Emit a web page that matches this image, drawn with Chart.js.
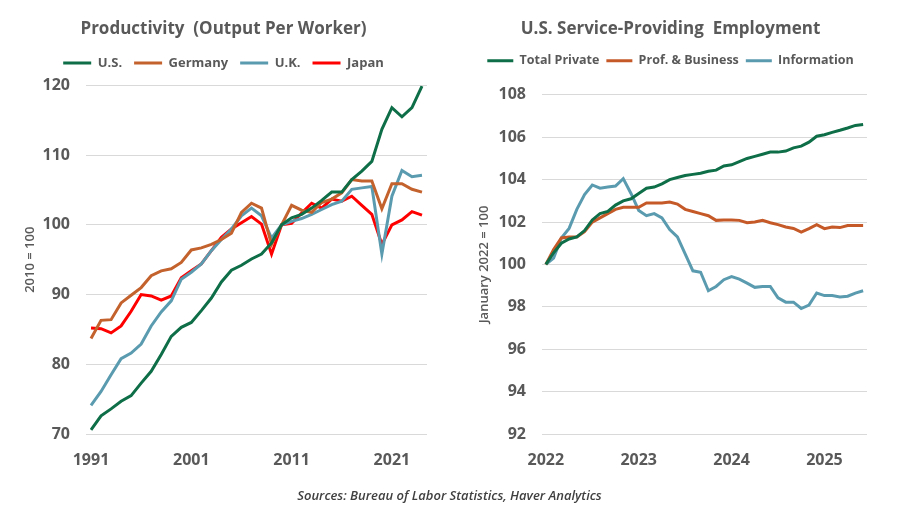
<!DOCTYPE html>
<html>
<head>
<meta charset="utf-8">
<title>Productivity and U.S. Service-Providing Employment</title>
<script src="https://cdn.jsdelivr.net/npm/chart.js@4.4.1/dist/chart.umd.min.js"></script>
<style>
    html, body { margin: 0; padding: 0; background: #fff; }
    #wrap { position: relative; width: 899px; height: 519px; overflow: hidden; }
    #prodChart { position: absolute; left: 0; top: 0; }
    #empChart { position: absolute; left: 450px; top: 0; }
    #source {
        position: absolute; left: 0; top: 486px; width: 899px;
        text-align: center; line-height: 18px;
        font: italic 600 13px 'Open Sans', sans-serif; color: #404040;
    }
</style>
</head>
<body>
<div id="wrap">
    <canvas id="prodChart" width="450" height="519"></canvas>
    <canvas id="empChart" width="449" height="519"></canvas>
    <div id="source">Sources: Bureau of Labor Statistics, Haver Analytics</div>
</div>
<script>
// Productivity (output per worker), 2010 = 100, annual
const prodYears = [
    '1991', '1992', '1993', '1994', '1995', '1996', '1997', '1998', '1999', '2000',
    '2001', '2002', '2003', '2004', '2005', '2006', '2007', '2008', '2009', '2010',
    '2011', '2012', '2013', '2014', '2015', '2016', '2017', '2018', '2019', '2020',
    '2021', '2022', '2023', '2024'
];
const prodYearTicks = ['1991', '2001', '2011', '2021'];
const prodUS = [70.6, 72.6, 73.6, 74.7, 75.5, 77.3, 79.0, 81.4, 84.0, 85.3, 86.0, 87.7, 89.5, 91.8, 93.5, 94.2, 95.1, 95.8,
    97.4, 100.0, 101.0, 101.5, 102.4, 103.5, 104.7, 104.7, 106.5, 107.7, 109.1, 113.7, 116.8, 115.5, 116.8, 119.9];
const prodGermany = [83.7, 86.3, 86.4, 88.8, 89.9, 91.0, 92.7, 93.4, 93.7, 94.6, 96.4, 96.7, 97.2, 97.9, 98.8, 101.8, 103.1, 102.4,
    97.2, 100.0, 102.8, 102.1, 101.8, 103.2, 103.7, 104.6, 106.5, 106.3, 106.3, 102.3, 105.9, 105.9, 105.1, 104.7];
const prodUK = [74.1, 76.1, 78.5, 80.8, 81.6, 82.9, 85.5, 87.5, 89.1, 92.2, 93.2, 94.4, 96.3, 97.9, 99.4, 101.3, 102.4, 101.3,
    98.1, 100.0, 100.5, 100.9, 101.5, 102.2, 102.9, 103.4, 105.1, 105.3, 105.5, 95.8, 104.1, 107.8, 106.9, 107.1];
const prodJapan = [85.2, 85.1, 84.5, 85.5, 87.6, 90.0, 89.8, 89.2, 89.8, 92.4, 93.4, 94.4, 96.3, 98.2, 99.4, 100.3, 101.2, 100.1,
    95.8, 100.0, 100.2, 101.7, 103.1, 102.4, 103.7, 103.4, 104.1, 102.8, 101.5, 97.2, 100.0, 100.7, 101.9, 101.4];

// Service-providing employment, January 2022 = 100, monthly
const empMonths = [
    '2022-01', '2022-02', '2022-03', '2022-04', '2022-05', '2022-06', '2022-07', '2022-08', '2022-09', '2022-10', '2022-11', '2022-12',
    '2023-01', '2023-02', '2023-03', '2023-04', '2023-05', '2023-06', '2023-07', '2023-08', '2023-09', '2023-10', '2023-11', '2023-12',
    '2024-01', '2024-02', '2024-03', '2024-04', '2024-05', '2024-06', '2024-07', '2024-08', '2024-09', '2024-10', '2024-11', '2024-12',
    '2025-01', '2025-02', '2025-03', '2025-04', '2025-05', '2025-06'
];
const empYearTicks = ['2022', '2023', '2024', '2025'];
const empTotalPrivate = [100.0, 100.55, 101.0, 101.2, 101.3, 101.6, 102.1, 102.4, 102.5, 102.8, 103.0, 103.1,
    103.35, 103.6, 103.65, 103.8, 104.0, 104.1, 104.2, 104.25, 104.3, 104.4, 104.45, 104.65,
    104.7, 104.85, 105.0, 105.1, 105.2, 105.3, 105.3, 105.35, 105.5, 105.58, 105.77, 106.05,
    106.12, 106.23, 106.33, 106.44, 106.56, 106.6];
const empProfBusiness = [100.0, 100.7, 101.25, 101.3, 101.3, 101.55, 102.0, 102.2, 102.4, 102.6, 102.7, 102.7,
    102.7, 102.9, 102.9, 102.9, 102.95, 102.85, 102.6, 102.5, 102.4, 102.3, 102.08, 102.1,
    102.1, 102.08, 101.97, 102.0, 102.08, 101.97, 101.88, 101.77, 101.7, 101.53, 101.69, 101.88,
    101.69, 101.77, 101.74, 101.84, 101.84, 101.84];
const empInformation = [100.0, 100.3, 101.25, 101.7, 102.6, 103.3, 103.75, 103.6, 103.65, 103.7, 104.05, 103.35,
    102.55, 102.3, 102.4, 102.2, 101.65, 101.3, 100.5, 99.7, 99.63, 98.76, 98.96, 99.28,
    99.43, 99.31, 99.12, 98.92, 98.96, 98.96, 98.42, 98.22, 98.22, 97.92, 98.08, 98.65,
    98.53, 98.53, 98.47, 98.5, 98.65, 98.76];

const TEXT = '#595959';
const GRID = '#d9d9d9';
const FONT = 'Open Sans';

// Adds some room between the legend and the plot
function legendGap(px) {
    return {
        id: 'legendGap',
        beforeInit(chart) {
            const fit = chart.legend.fit;
            chart.legend.fit = function () {
                fit.call(this);
                this.height += px;
            };
        }
    };
}

function series(label, data, color) {
    return {
        label: label,
        data: data,
        borderColor: color,
        backgroundColor: color,
        borderWidth: 3,
        pointRadius: 0,
        tension: 0
    };
}

function lineOptions(cfg) {
    return {
        responsive: false,
        animation: false,
        layout: { padding: { left: cfg.padLeft, right: cfg.padRight, top: 0, bottom: 45 } },
        plugins: {
            title: {
                display: true,
                text: cfg.title,
                color: TEXT,
                font: { family: FONT, size: 17, weight: 'bold' },
                padding: { top: 19, bottom: cfg.titleBottom }
            },
            legend: {
                position: 'top',
                labels: {
                    color: TEXT,
                    font: { family: FONT, size: cfg.legendSize, weight: 'bold' },
                    usePointStyle: true,
                    pointStyle: 'line',
                    pointStyleWidth: cfg.legendLine,
                    padding: cfg.legendPad
                }
            },
            tooltip: { enabled: false }
        },
        scales: {
            x: {
                offset: true,
                grid: { display: false },
                border: { display: false },
                ticks: {
                    autoSkip: false,
                    maxRotation: 0,
                    padding: 9,
                    color: TEXT,
                    font: { family: FONT, size: 16, weight: 'bold' },
                    callback: function (value) {
                        return cfg.xTick(this.getLabelForValue(value));
                    }
                },
                afterFit(scale) { scale.height = 40; }
            },
            y: {
                min: cfg.yMin,
                max: cfg.yMax,
                grid: { color: GRID, drawTicks: false },
                border: { display: false },
                ticks: {
                    stepSize: cfg.yStep,
                    padding: 16,
                    color: TEXT,
                    font: { family: FONT, size: 16, weight: 'bold' }
                },
                title: {
                    display: true,
                    text: cfg.yTitle,
                    color: TEXT,
                    font: { family: FONT, size: 13, weight: '600' },
                    padding: { top: 2, bottom: 0 }
                },
                afterFit(scale) { scale.width = cfg.yWidth; }
            }
        }
    };
}

function initProductivityChart(elementId) {
    const ctx = document.getElementById(elementId);
    if (!ctx) return;

    new Chart(ctx, {
        type: 'line',
        data: {
            labels: prodYears,
            datasets: [
                series('U.S.', prodUS, '#0e6e47'),
                series('Germany', prodGermany, '#c4622d'),
                series('U.K.', prodUK, '#5b9bb0'),
                series('Japan', prodJapan, '#ff0000')
            ]
        },
        options: lineOptions({
            title: 'Productivity  (Output Per Worker)',
            yTitle: '2010 = 100',
            yMin: 70, yMax: 120, yStep: 10,
            padLeft: 20, padRight: 23, yWidth: 66,
            titleBottom: 5,
            legendSize: 13, legendLine: 28, legendPad: 12,
            xTick: (lbl) => prodYearTicks.includes(lbl) ? lbl : null
        }),
        plugins: [legendGap(6)]
    });
}

function initEmploymentChart(elementId) {
    const ctx = document.getElementById(elementId);
    if (!ctx) return;

    new Chart(ctx, {
        type: 'line',
        data: {
            labels: empMonths,
            datasets: [
                series('Total Private', empTotalPrivate, '#0e6e47'),
                series('Prof. & Business', empProfBusiness, '#c55a28'),
                series('Information', empInformation, '#5b9bb0')
            ]
        },
        options: lineOptions({
            title: 'U.S. Service-Providing  Employment',
            yTitle: 'January 2022 = 100',
            yMin: 92, yMax: 108, yStep: 2,
            padLeft: 24, padRight: 32, yWidth: 68,
            titleBottom: 8,
            legendSize: 12.5, legendLine: 26, legendPad: 7,
            xTick: (lbl) => {
                const [yr, mo] = lbl.split('-');
                return mo === '01' && empYearTicks.includes(yr) ? yr : null;
            }
        }),
        plugins: [legendGap(18)]
    });
}

initProductivityChart('prodChart');
initEmploymentChart('empChart');
</script>
</body>
</html>
